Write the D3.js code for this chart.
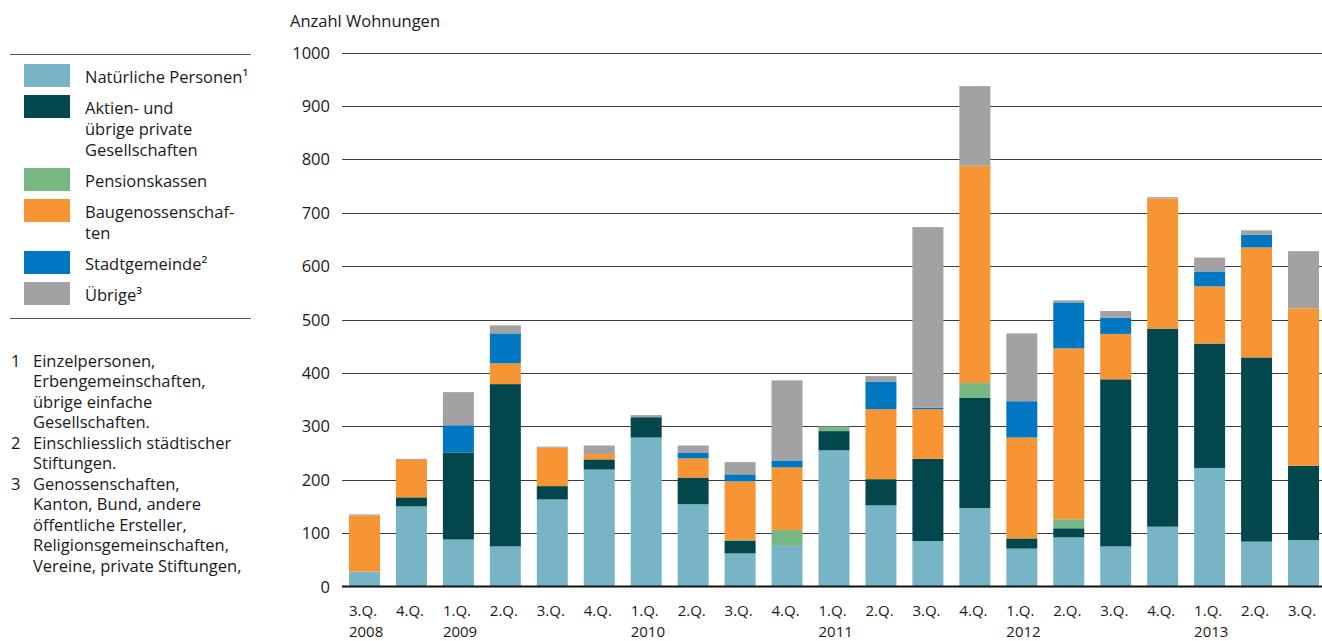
<!DOCTYPE html>
<html>
<head>
<meta charset="utf-8">
<script src="https://cdn.jsdelivr.net/npm/d3@7"></script>
<style>
  body { margin: 0; background: #fff; }
  svg { display: block; font-family: "Open Sans", sans-serif; }
</style>
</head>
<body>
<svg id="chart" width="1322" height="641"></svg>
<script>
// quarters and year labels
var quarters = ['3.Q.', '4.Q.', '1.Q.', '2.Q.', '3.Q.', '4.Q.', '1.Q.', '2.Q.', '3.Q.', '4.Q.', '1.Q.',
                '2.Q.', '3.Q.', '4.Q.', '1.Q.', '2.Q.', '3.Q.', '4.Q.', '1.Q.', '2.Q.', '3.Q.'];
var years = ['2008', '', '2009', '', '', '', '2010', '', '', '', '2011',
             '', '', '', '2012', '', '', '', '2013', '', ''];

// series (Anzahl Wohnungen)
var natuerliche = [28, 150, 88, 75, 163, 219, 279, 154, 62, 76, 255, 152, 85, 147, 71, 92, 75, 112, 222, 84, 87];
var aktien      = [0, 17, 163, 304, 25, 19, 38, 50, 24, 0, 36, 49, 154, 206, 19, 17, 313, 371, 233, 345, 139];
var pension     = [0, 0, 0, 0, 0, 0, 0, 0, 1, 30, 8, 0, 0, 28, 0, 17, 0, 0, 0, 0, 0];
var baugenoss   = [105, 70, 0, 39, 72, 10, 0, 36, 110, 117, 0, 131, 93, 407, 189, 320, 85, 244, 107, 206, 295];
var stadt       = [0, 0, 51, 56, 0, 0, 0, 11, 13, 13, 0, 52, 3, 0, 68, 86, 30, 0, 28, 24, 0];
var uebrige     = [2, 2, 62, 15, 2, 16, 4, 13, 23, 150, 1, 10, 338, 149, 127, 4, 13, 2, 26, 8, 107];

var yTicks = [0, 100, 200, 300, 400, 500, 600, 700, 800, 900, 1000];

var keys = ['nat', 'akt', 'pen', 'bau', 'sta', 'ueb'];
var colors = {
    nat: '#77b4c6',
    akt: '#01474c',
    pen: '#76b783',
    bau: '#f79433',
    sta: '#0077c0',
    ueb: '#a3a1a2'
};
var legendItems = [
    { key: 'nat', lines: ['Natürliche Personen¹'] },
    { key: 'akt', lines: ['Aktien- und', 'übrige private', 'Gesellschaften'] },
    { key: 'pen', lines: ['Pensionskassen'] },
    { key: 'bau', lines: ['Baugenossenschaf-', 'ten'] },
    { key: 'sta', lines: ['Stadtgemeinde²'] },
    { key: 'ueb', lines: ['Übrige³'] }
];
var footnotes = [
    ['1', ['Einzelpersonen,', 'Erbengemeinschaften,', 'übrige einfache', 'Gesellschaften.']],
    ['2', ['Einschliesslich städtischer', 'Stiftungen.']],
    ['3', ['Genossenschaften,', 'Kanton, Bund, andere', 'öffentliche Ersteller,', 'Religionsgemeinschaften,', 'Vereine, private Stiftungen,']]
];

var table = quarters.map(function(q, i) {
    return { i: i, nat: natuerliche[i], akt: aktien[i], pen: pension[i],
             bau: baugenoss[i], sta: stadt[i], ueb: uebrige[i] };
});

var fontSize = '16.5px';
var textColor = '#1a1a1a';

var svg = d3.select('#chart');

var x = d3.scaleBand()
    .domain(d3.range(quarters.length))
    .range([341, 1327])
    .paddingInner(0.34)
    .paddingOuter(0.17);

var y = d3.scaleLinear()
    .domain([0, 1000])
    .range([586.5, 52.5]);

// gridlines
svg.append('g')
    .selectAll('line')
    .data(yTicks.filter(function(d) { return d > 0; }))
    .enter().append('line')
    .attr('x1', 342)
    .attr('x2', 1322)
    .attr('y1', function(d) { return Math.round(y(d)) + 0.5; })
    .attr('y2', function(d) { return Math.round(y(d)) + 0.5; })
    .style('stroke', '#3a3a3a')
    .style('stroke-width', '1.2px');

// y labels
svg.append('g')
    .selectAll('text')
    .data(yTicks)
    .enter().append('text')
    .attr('x', 330)
    .attr('y', function(d) { return y(d) + 6; })
    .attr('text-anchor', 'end')
    .style('font-size', fontSize)
    .style('fill', textColor)
    .text(function(d) { return d; });

svg.append('text')
    .attr('x', 290)
    .attr('y', 27)
    .style('font-size', fontSize)
    .style('fill', textColor)
    .text('Anzahl Wohnungen');

// stacked bars
var series = d3.stack().keys(keys)(table);

svg.append('g')
    .selectAll('g')
    .data(series)
    .enter().append('g')
    .style('fill', function(s) { return colors[s.key]; })
    .selectAll('rect')
    .data(function(s) { return s; })
    .enter().append('rect')
    .attr('x', function(d) { return x(d.data.i); })
    .attr('width', x.bandwidth())
    .attr('y', function(d) { return y(d[1]); })
    .attr('height', function(d) { return y(d[0]) - y(d[1]); });

// baseline
svg.append('line')
    .attr('x1', 342)
    .attr('x2', 1322)
    .attr('y1', y(0))
    .attr('y2', y(0))
    .style('stroke', '#111')
    .style('stroke-width', '2px');

// x labels (a bit smaller so the year row fits in the frame)
var xl = svg.append('g');
xl.selectAll('text.q')
    .data(quarters)
    .enter().append('text')
    .attr('class', 'q')
    .attr('x', function(d, i) { return x(i); })
    .attr('y', 615.5)
    .style('font-size', '15px')
    .style('fill', textColor)
    .text(function(d) { return d; });
xl.selectAll('text.yr')
    .data(years)
    .enter().append('text')
    .attr('class', 'yr')
    .attr('x', function(d, i) { return x(i); })
    .attr('y', 636.5)
    .style('font-size', '15px')
    .style('fill', textColor)
    .text(function(d) { return d; });

// legend
svg.append('line').attr('x1', 10).attr('x2', 251).attr('y1', 54.5).attr('y2', 54.5)
    .style('stroke', '#555').style('stroke-width', '1.2px');
svg.append('line').attr('x1', 10).attr('x2', 251).attr('y1', 318.5).attr('y2', 318.5)
    .style('stroke', '#555').style('stroke-width', '1.2px');

var swatchY = [64, 95, 168, 199, 251, 282];
var leg = svg.append('g');
legendItems.forEach(function(item, k) {
    leg.append('rect')
        .attr('x', 24)
        .attr('y', swatchY[k])
        .attr('width', 46)
        .attr('height', 23)
        .style('fill', colors[item.key]);
    item.lines.forEach(function(t, j) {
        leg.append('text')
            .attr('x', 85)
            .attr('y', swatchY[k] + 18.5 + j * 21)
            .style('font-size', fontSize)
            .style('fill', textColor)
            .text(t);
    });
});

// footnotes
var fy = 366.5;
footnotes.forEach(function(f) {
    svg.append('text')
        .attr('x', 11)
        .attr('y', fy)
        .style('font-size', fontSize)
        .style('fill', textColor)
        .text(f[0]);
    f[1].forEach(function(t) {
        svg.append('text')
            .attr('x', 33)
            .attr('y', fy)
            .style('font-size', fontSize)
            .style('fill', textColor)
            .text(t);
        fy += 20.5;
    });
});
</script>
</body>
</html>
